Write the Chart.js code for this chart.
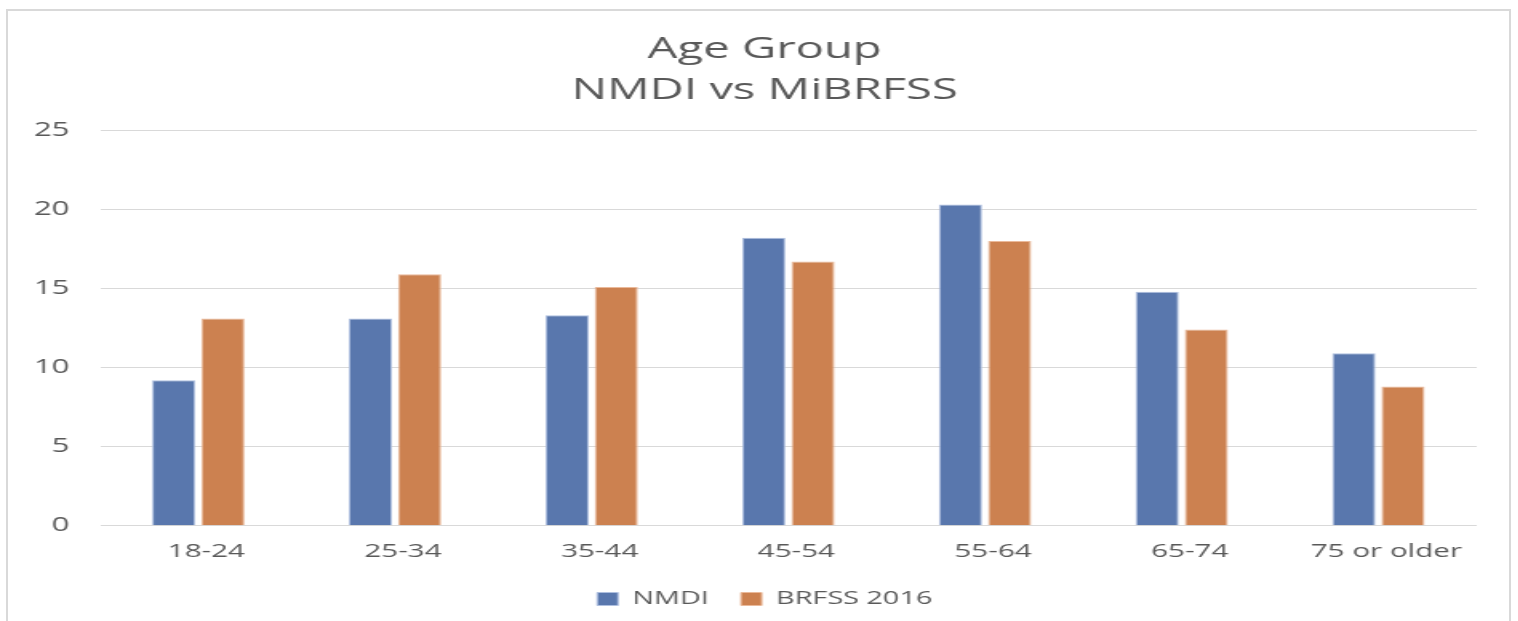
<!DOCTYPE html>
<html>
<head>
<meta charset="utf-8">
<script src="https://cdn.jsdelivr.net/npm/chart.js@4.4.0/dist/chart.umd.min.js"></script>
<style>
	html, body { margin: 0; padding: 0; background: #fff; overflow: hidden; }
	#frame {
		position: absolute; left: 6px; top: 9px; width: 1505px; height: 640px;
		border: 2px solid #d9d9d9; box-sizing: border-box;
	}
	#wrap {
		position: absolute; left: 0; top: 0; width: 955px; height: 621px;
		transform: scaleX(1.6); transform-origin: 0 0;
	}
</style>
</head>
<body>
<div id="frame"></div>
<div id="wrap"><canvas id="ageChart" width="955" height="621"></canvas></div>
<script>
// values
var ageGroups = ['18-24', '25-34', '35-44', '45-54', '55-64', '65-74', '75 or older'];
var nmdiValues = [9.2, 13.1, 13.3, 18.2, 20.3, 14.8, 10.9];
var brfssValues = [13.1, 15.9, 15.1, 16.7, 18.0, 12.4, 8.8];
var titleLines = ['Age Group', 'NMDI vs MiBRFSS'];

var textColor = '#595959';
var fontFamily = '"Open Sans", "Liberation Sans", sans-serif';

var ctx = document.getElementById( 'ageChart' ).getContext( '2d' );
var ageChart = new Chart( ctx, {
	type   : 'bar',
	data   : {
		labels  : ageGroups,
		datasets: [
			{
				label          : 'NMDI',
				data           : nmdiValues,
				backgroundColor: '#5977ad',
				borderColor    : '#aebfdf',
				borderWidth    : 1
			},
			{
				label          : 'BRFSS 2016',
				data           : brfssValues,
				backgroundColor: '#cc8150',
				borderColor    : '#eab99a',
				borderWidth    : 1
			}
		]
	},
	options: {
		responsive        : false,
		animation         : false,
		categoryPercentage: 0.5,
		barPercentage     : 0.88,
		layout            : {
			padding: { top: 20, left: 33, right: 32, bottom: 3 }
		},
		scales : {
			x: {
				grid  : { display: false },
				border: { display: false },
				ticks : {
					color      : textColor,
					padding    : 7,
					labelOffset: 5,
					font       : { family: fontFamily, size: 18.5 }
				}
			},
			y: {
				min     : 0,
				max     : 25,
				grid    : { color: '#d9d9d9', drawTicks: false },
				border  : { display: false },
				afterFit: function ( scale ) {
					// narrow axis box so title and legend centre like the original,
					// and let the tick labels hang out of it without being clipped
					scale.width = 29.5;
					scale._computeLabelArea = function () { return undefined; };
				},
				ticks   : {
					stepSize: 5,
					color   : textColor,
					padding : 19,
					font    : { family: fontFamily, size: 19.5 }
				}
			}
		},
		plugins: {
			title  : {
				display: true,
				text   : titleLines,
				color  : textColor,
				padding: { top: 10, bottom: 20 },
				font   : { family: fontFamily, size: 29.5, weight: 'normal', lineHeight: 1.36 }
			},
			legend : {
				position: 'bottom',
				labels  : {
					color    : textColor,
					boxWidth : 13,
					boxHeight: 13,
					padding  : 20,
					font     : { family: fontFamily, size: 18 }
				}
			},
			tooltip: { enabled: false }
		}
	}
} );
</script>
</body>
</html>
